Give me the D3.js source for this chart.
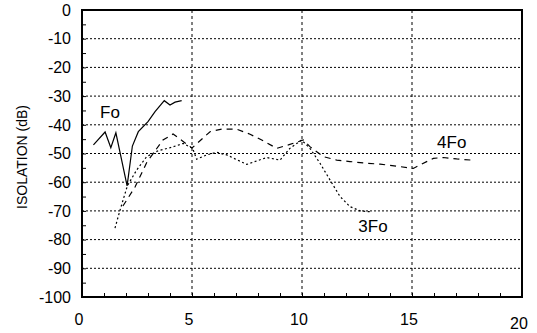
<!DOCTYPE html>
<html>
<head>
<meta charset="utf-8">
<script src="https://cdn.jsdelivr.net/npm/d3@7"></script>
<style>
  body { margin: 0; background: #fff; }
  text { font-family: "Liberation Sans", Arial, sans-serif; fill: #000; }
</style>
</head>
<body>
<div id="chart"></div>
<script>
// data
var xTicks = [0, 5, 10, 15, 20];
var yTicks = [0, -10, -20, -30, -40, -50, -60, -70, -80, -90, -100];

var foX = [0.52, 1.05, 1.31, 1.54, 2.05, 2.29, 2.56, 3.0, 3.32, 3.74, 4.0, 4.23, 4.53];
var foY = [-47, -42.5, -48, -42.8, -61.3, -47.4, -42.4, -38.9, -35.4, -31.6, -33.1, -32.1, -31.6];

var fo3X = [1.5, 1.73, 2.06, 2.49, 2.94, 3.47, 4.0, 4.6, 5.03, 5.21, 5.67, 6.12, 6.58, 7.49, 8.39, 9.0, 9.45, 9.98, 10.36, 10.82, 11.27, 11.73, 12.18, 12.64, 13.1];
var fo3Y = [-76, -69.7, -61.3, -55.7, -51.1, -49, -48, -46.5, -48.2, -52, -50.5, -49.6, -50.5, -53.8, -51.4, -52.3, -48.2, -45.3, -48.2, -53.4, -59.2, -65, -68.5, -70, -70.3];

var fo4X = [1.86, 2.41, 2.95, 3.68, 4.14, 5.0, 5.82, 6.35, 7.03, 7.64, 8.17, 8.85, 9.38, 10.06, 10.36, 10.97, 11.58, 12.18, 12.94, 13.55, 14.3, 15.06, 15.36, 15.97, 16.42, 17.03, 17.7];
var fo4Y = [-68.3, -61.7, -53, -45.3, -43.2, -48.1, -42.4, -41.5, -41.5, -43.3, -45.3, -48.2, -47, -45.3, -47.6, -51.1, -52.3, -52.8, -53.4, -53.7, -54.4, -55.2, -54, -51.7, -51.4, -51.9, -52.3];

var W = 537, H = 333;
var margin = { left: 82, top: 10, right: 15, bottom: 36 };
var width = W - margin.left - margin.right;
var height = H - margin.top - margin.bottom;

var svg = d3.select("#chart").append("svg")
  .attr("width", W).attr("height", H);
var g = svg.append("g")
  .attr("transform", "translate(" + margin.left + "," + margin.top + ")");

var x = d3.scaleLinear().domain([0, 20]).range([0, width]);
var y = d3.scaleLinear().domain([-100, 0]).range([height, 0]);

// grid
g.append("g").selectAll("line")
  .data(yTicks.filter(d => d > -100 && d < 0))
  .enter().append("line")
  .attr("x1", 0).attr("x2", width)
  .attr("y1", d => y(d)).attr("y2", d => y(d))
  .attr("stroke", "#000").attr("stroke-width", 1)
  .attr("stroke-dasharray", "2,2");

g.append("g").selectAll("line")
  .data([5, 10, 15])
  .enter().append("line")
  .attr("x1", d => x(d)).attr("x2", d => x(d))
  .attr("y1", 0).attr("y2", height)
  .attr("stroke", "#000").attr("stroke-width", 1)
  .attr("stroke-dasharray", "3,3");

// minor ticks, drawn inside
g.append("g")
  .attr("transform", "translate(0," + height + ")")
  .call(d3.axisBottom(x).ticks(20).tickSize(-4).tickFormat(""))
  .call(a => a.select(".domain").remove());
g.append("g")
  .call(d3.axisLeft(y).ticks(20).tickSize(-4).tickFormat(""))
  .call(a => a.select(".domain").remove());

// frame
g.append("rect")
  .attr("width", width).attr("height", height)
  .attr("fill", "none").attr("stroke", "#000").attr("stroke-width", 2);

// tick labels
g.append("g").selectAll("text")
  .data(yTicks).enter().append("text")
  .attr("x", -11).attr("y", d => y(d)).attr("dy", "0.36em")
  .attr("text-anchor", "end").style("font-size", "16px")
  .text(d => d);

g.append("g").selectAll("text")
  .data(xTicks).enter().append("text")
  .attr("x", d => x(d) - 3).attr("y", d => height + (d === 20 ? 32 : 28))
  .attr("text-anchor", "middle").style("font-size", "16px")
  .text(d => d);

svg.append("text")
  .attr("transform", "translate(27," + (margin.top + 147) + ") rotate(-90)")
  .attr("text-anchor", "middle").style("font-size", "14px")
  .text("ISOLATION (dB)");

// series
function pts(xs, ys) { return xs.map((v, i) => [v, ys[i]]); }
var line = d3.line().x(d => x(d[0])).y(d => y(d[1]));

g.append("path").datum(pts(foX, foY))
  .attr("d", line).attr("fill", "none")
  .attr("stroke", "#000").attr("stroke-width", 1.2);

g.append("path").datum(pts(fo3X, fo3Y))
  .attr("d", line).attr("fill", "none")
  .attr("stroke", "#000").attr("stroke-width", 1.2)
  .attr("stroke-dasharray", "2,2.5");

g.append("path").datum(pts(fo4X, fo4Y))
  .attr("d", line).attr("fill", "none")
  .attr("stroke", "#000").attr("stroke-width", 1.2)
  .attr("stroke-dasharray", "6,5");

// series labels
var labels = [["Fo", 0.82, -37.6], ["3Fo", 12.56, -77.5], ["4Fo", 16.14, -48.2]];
g.append("g").selectAll("text")
  .data(labels).enter().append("text")
  .attr("x", d => x(d[1])).attr("y", d => y(d[2]))
  .style("font-size", "17px")
  .text(d => d[0]);
</script>
</body>
</html>
